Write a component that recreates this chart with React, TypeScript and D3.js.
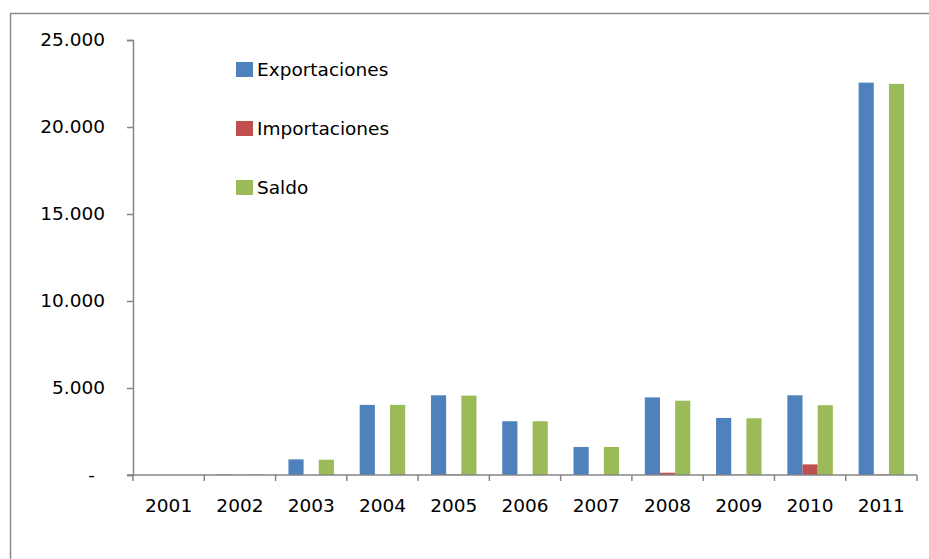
import React, { useRef, useEffect } from "react";
import * as d3 from "d3";

// years on the x axis
const years = ["2001", "2002", "2003", "2004", "2005", "2006", "2007", "2008", "2009", "2010", "2011"];
const seriesNames = ["Exportaciones", "Importaciones", "Saldo"];
const exportaciones = [0, 40, 900, 4030, 4580, 3090, 1610, 4460, 3280, 4580, 22550];
const importaciones = [0, 5, 0, 0, 30, 0, 0, 130, 20, 610, 30];
const saldo = [0, 35, 880, 4030, 4560, 3090, 1610, 4270, 3260, 4010, 22480];
const yTicks = [0, 5000, 10000, 15000, 20000, 25000];
const colors = ["#4F81BD", "#C0504D", "#9BBB59"];

const App: React.FC = () => {
  const ref = useRef<SVGSVGElement>(null);

  useEffect(() => {
    document.body.style.margin = "0";
    if (!ref.current) return;
    const svg = d3.select(ref.current);
    svg.selectAll("*").remove();

    const font = "DejaVu Sans, sans-serif";
    const values = [exportaciones, importaciones, saldo];

    // outer chart frame (right and bottom edges fall off the page)
    svg
      .append("rect")
      .attr("x", 10.5)
      .attr("y", 13.5)
      .attr("width", 940)
      .attr("height", 560)
      .attr("fill", "#fff")
      .attr("stroke", "#8c8c8c")
      .attr("stroke-width", 1.5);

    const x = d3.scaleBand().domain(years).range([133, 917]);
    const inner = d3
      .scaleBand()
      .domain(seriesNames)
      .range([0, x.bandwidth()])
      .paddingInner(0)
      .paddingOuter(0.85);
    const y = d3.scaleLinear().domain([0, 25000]).range([475, 40]);

    // bars
    seriesNames.forEach((name, si) => {
      svg
        .append("g")
        .selectAll("rect")
        .data(years)
        .join("rect")
        .attr("x", (d) => (x(d) as number) + (inner(name) as number))
        .attr("width", inner.bandwidth())
        .attr("y", (d, i) => y(values[si][i]))
        .attr("height", (d, i) => y(0) - y(values[si][i]))
        .attr("fill", colors[si]);
    });

    // y axis
    const yAxis = d3
      .axisLeft(y)
      .tickValues(yTicks)
      .tickSize(6)
      .tickFormat((d) => ((d as number) === 0 ? "-" : d3.format(",")(d as number).replace(/,/g, ".")));
    const gy = svg.append("g").attr("transform", "translate(133,0)").call(yAxis);
    gy.selectAll("line, path").attr("stroke", "#868686").attr("stroke-width", 1.5);
    gy.selectAll("text")
      .attr("x", (d) => ((d as number) === 0 ? -38 : -28))
      .attr("font-family", font)
      .attr("font-size", 18.5)
      .attr("fill", "#000");

    // x axis
    const gx = svg.append("g").attr("transform", `translate(0,${y(0)})`);
    gx.append("line")
      .attr("x1", 127)
      .attr("x2", 917)
      .attr("stroke", "#868686")
      .attr("stroke-width", 1.5);
    const tickPos = years.map((d) => x(d) as number).concat([917]);
    gx.selectAll("line.tick")
      .data(tickPos)
      .join("line")
      .attr("class", "tick")
      .attr("x1", (d) => d)
      .attr("x2", (d) => d)
      .attr("y1", 0)
      .attr("y2", 6)
      .attr("stroke", "#868686")
      .attr("stroke-width", 1.5);
    gx.selectAll("text")
      .data(years)
      .join("text")
      .attr("x", (d) => (x(d) as number) + x.bandwidth() / 2)
      .attr("y", 37)
      .attr("text-anchor", "middle")
      .attr("font-family", font)
      .attr("font-size", 18.5)
      .text((d) => d);

    // legend
    const legend = svg
      .append("g")
      .selectAll("g")
      .data(seriesNames)
      .join("g")
      .attr("transform", (d, i) => `translate(236,${62 + i * 59})`);
    legend
      .append("rect")
      .attr("width", 17)
      .attr("height", 15)
      .attr("fill", (d, i) => colors[i]);
    legend
      .append("text")
      .attr("x", 21)
      .attr("y", 14)
      .attr("font-family", font)
      .attr("font-size", 18.5)
      .text((d) => d);
  }, []);

  return <svg ref={ref} width={929} height={559} style={{ display: "block" }} />;
};

export default App;
